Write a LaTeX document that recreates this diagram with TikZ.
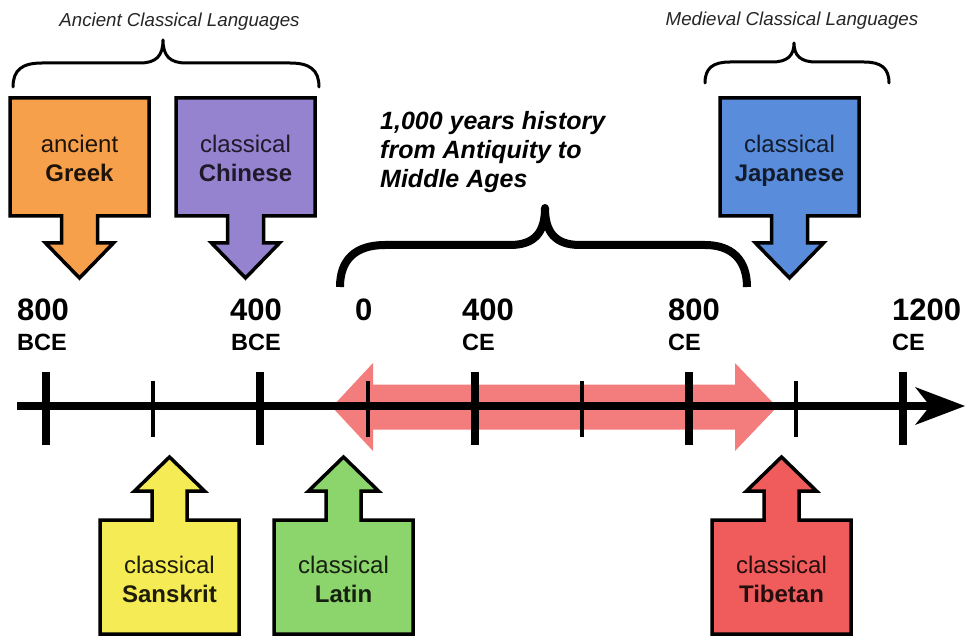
\documentclass[tikz,border=0pt]{standalone}
\usepackage{fontspec}
\setmainfont{Liberation Sans}
\usetikzlibrary{calc}
\definecolor{cgreek}{RGB}{246,160,76}
\definecolor{cchinese}{RGB}{150,131,208}
\definecolor{cjapanese}{RGB}{90,140,220}
\definecolor{csanskrit}{RGB}{245,236,85}
\definecolor{clatin}{RGB}{140,212,108}
\definecolor{ctibetan}{RGB}{240,92,92}
\definecolor{cspan}{RGB}{243,124,124}
\newcommand\topshape[2]{%
  \pgfmathsetmacro\bxc{#1+69.5}%
  \draw[boxline,fill=#2] (#1,98) -- (#1+139,98) -- (#1+139,216) -- (\bxc+18,216) -- (\bxc+18,243) -- (\bxc+34,243) -- (\bxc,278) -- (\bxc-34,243) -- (\bxc-18,243) -- (\bxc-18,216) -- (#1,216) -- cycle;}
\newcommand\botshape[2]{%
  \pgfmathsetmacro\bxc{#1+69.5}%
  \draw[boxline,fill=#2] (#1,634) -- (#1+139,634) -- (#1+139,520) -- (\bxc+17.5,520) -- (\bxc+17.5,491) -- (\bxc+35,491) -- (\bxc,457) -- (\bxc-35,491) -- (\bxc-17.5,491) -- (\bxc-17.5,520) -- (#1,520) -- cycle;}
\tikzset{
  boxline/.style={line width=3.5pt,line join=miter,draw=black},
  boxtext/.style={font=\fontsize{24}{28.5}\selectfont,align=center,anchor=north,inner sep=0pt},
  yearnum/.style={font=\fontsize{31}{31}\selectfont\bfseries,anchor=base west,inner sep=0pt},
  eralab/.style={font=\fontsize{23.5}{24}\selectfont\bfseries,anchor=base west,inner sep=0pt},
  grouplab/.style={font=\fontsize{18.7}{20}\selectfont\itshape,anchor=base,inner sep=0pt,text=black!85},
  smallbrace/.style={line width=3pt,line cap=round,line join=round},
  bigbrace/.style={line width=8pt,line cap=butt,line join=round},
  majortick/.style={line width=8pt},
  minortick/.style={line width=4pt}
}
\begin{document}
\begin{tikzpicture}[x=1pt,y=-1pt]
\useasboundingbox (0,0) rectangle (966,636);
\clip (0,0) rectangle (966,636);
\fill[white] (0,0) rectangle (966,636);

% span arrow (0 CE to ~1000 CE)
\fill[cspan] (332,407) -- (373,363) -- (373,384.5) -- (735,384.5) -- (735,363) -- (777,407) -- (735,451) -- (735,429.5) -- (373,429.5) -- (373,451) -- cycle;

% axis
\coordinate (axL) at (17,406);
\coordinate (axN) at (934,406);
\coordinate (axR) at (965,406);
\draw[line width=8pt] (axL) -- (axN);
\fill (axR) -- (915,387) -- (930,406) -- (915,425) -- cycle;

\foreach \x in {46,260,475,689,903} \draw[majortick] (\x,372) -- (\x,445);
\foreach \x in {153,368,582,796} \draw[minortick] (\x,381) -- (\x,437);

% year labels
\node[yearnum] (y800b) at (17,320) {800};
\node[eralab] (e800b) at (17,350) {BCE};
\node[yearnum] (y400b) at (230,320) {400};
\node[eralab] (e400b) at (231,350) {BCE};
\node[yearnum] (y0) at (355,320) {0};
\node[yearnum] (y400c) at (462,320) {400};
\node[eralab] (e400c) at (462,350) {CE};
\node[yearnum] (y800c) at (668,320) {800};
\node[eralab] (e800c) at (668,350) {CE};
\node[yearnum] (y1200c) at (892,320) {1200};
\node[eralab] (e1200c) at (892,350) {CE};

% top language boxes
\topshape{10}{cgreek}
\topshape{176}{cchinese}
\topshape{720}{cjapanese}
\node[boxtext,text=black!88!cgreek] (greek) at (79.5,135) {ancient\\\textbf{Greek}};
\node[boxtext,text=black!80!cchinese] (chinese) at (245.5,135) {classical\\\textbf{Chinese}};
\node[boxtext,text=black!80!cjapanese] (japanese) at (789.5,135) {classical\\\textbf{Japanese}};

% bottom language boxes
\botshape{100}{csanskrit}
\botshape{274}{clatin}
\botshape{712}{ctibetan}
\node[boxtext,text=black!88!csanskrit] (sanskrit) at (169.5,556) {classical\\\textbf{Sanskrit}};
\node[boxtext,text=black!85!clatin] (latin) at (343.5,556) {classical\\\textbf{Latin}};
\node[boxtext,text=black!85!ctibetan] (tibetan) at (781.5,556) {classical\\\textbf{Tibetan}};

% braces
\draw[smallbrace] (13,87) .. controls (13,70) and (22,63) .. (42,63) -- (140,63) .. controls (156,63) and (163,56) .. (163,40) .. controls (163,56) and (170,63) .. (186,63) -- (290,63) .. controls (310,63) and (319,70) .. (319,87);
\draw[smallbrace] (705,83) .. controls (705,68) and (713,62) .. (730,62) -- (772,62) .. controls (787,62) and (794,56) .. (794,43) .. controls (794,56) and (801,62) .. (816,62) -- (864,62) .. controls (881,62) and (889,68) .. (889,83);
\draw[bigbrace] (340,287) .. controls (340,260) and (355,245) .. (385,245) -- (510,245) .. controls (535,245) and (545,232) .. (545,208) .. controls (545,232) and (555,245) .. (580,245) -- (705,245) .. controls (732,245) and (747,260) .. (747,287);

% group labels
\node[grouplab] (ancient) at (179.5,27) {Ancient Classical Languages};
\node[grouplab] (medieval) at (792,26) {Medieval Classical Languages};
\node[font=\fontsize{25}{29}\selectfont\bfseries\itshape,align=left,anchor=north west,inner sep=0pt] (history) at (380,111) {1,000 years history\\from Antiquity to\\Middle Ages};
\end{tikzpicture}
\end{document}
